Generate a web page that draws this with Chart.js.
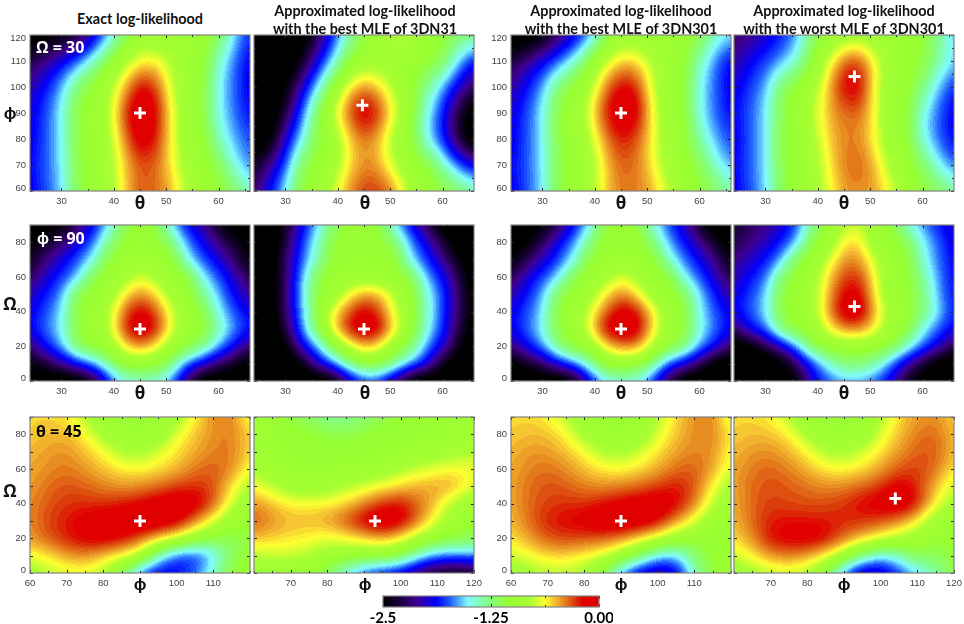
<!DOCTYPE html>
<html>
<head>
<meta charset="utf-8">
<script src="https://cdn.jsdelivr.net/npm/chart.js@4"></script>
<style>
  html, body { margin: 0; padding: 0; background: #fff; }
  body { position: relative; width: 964px; height: 624px; overflow: hidden; }
  canvas { position: absolute; }
  .txt { position: absolute; white-space: nowrap; line-height: 1; font-weight: 700; transform: translate(-50%, -50%); }
  .title { font: 700 14.4px Lato, "Open Sans", sans-serif; color: #111; }
  .sym { font: 700 17px "Open Sans", sans-serif; color: #111; }
  .tag { font: 700 16px "Open Sans", sans-serif; transform: translate(0, -50%); }
</style>
</head>
<body>
<script>
// axes of the value grids
const thetaNodes = [24, 27, 30, 33, 36, 39, 42, 45, 48, 51, 54, 57, 60, 63, 66];
const phiRowNodes = [120, 110, 100, 90, 80, 70, 60];
const omegaRowNodes = [90, 80, 70, 60, 50, 40, 30, 20, 10, 0];
const phiColNodes = [60, 65, 70, 75, 80, 85, 90, 95, 100, 105, 110, 115, 120];

// tick marks and the ticks that carry a label
const thetaTicks = [25, 30, 35, 40, 45, 50, 55, 60, 65];
const thetaLabels = [30, 40, 50, 60];
const phiTicks = [60, 65, 70, 75, 80, 85, 90, 95, 100, 105, 110, 115, 120];
const phiAxisLabels = [60, 70, 80, 90, 100, 110, 120];
const phiLabelsLeft = [60, 70, 80, 100, 110];
const phiLabelsRight = [70, 80, 100, 110, 120];
const omegaTicks = [0, 10, 20, 30, 40, 50, 60, 70, 80, 90];
const omegaLabels = [0, 20, 40, 60, 80];

// row 1: Omega = 30, log-likelihood over theta (columns) and phi (rows)
const exactOmega30 = [
  [-2.6,-2.6,-2.55,-2.4,-2.05,-1.65,-1.2,-1,-1,-1,-1,-1,-1.1,-1.55,-1.8],
  [-2.3,-2.1,-1.9,-1.7,-1.4,-1.05,-0.85,-0.62,-0.6,-0.8,-0.98,-1,-1.45,-1.7,-1.95],
  [-2.05,-1.85,-1.6,-1.2,-1,-0.85,-0.5,-0.12,-0.25,-0.72,-0.98,-1.05,-1.5,-1.72,-1.95],
  [-1.95,-1.75,-1.5,-1.05,-1,-0.8,-0.25,0,-0.12,-0.62,-0.98,-1.05,-1.5,-1.7,-1.9],
  [-1.95,-1.75,-1.52,-1.08,-1,-0.85,-0.42,-0.05,-0.2,-0.63,-0.95,-1.02,-1.4,-1.62,-1.75],
  [-1.9,-1.72,-1.55,-1.1,-1,-0.9,-0.55,-0.32,-0.35,-0.6,-0.9,-1,-1.1,-1.5,-1.7],
  [-1.95,-1.75,-1.58,-1.1,-1,-0.9,-0.55,-0.3,-0.35,-0.48,-0.8,-1,-1.05,-1.15,-1.4]
];
const best31Omega30 = [
  [-2.7,-2.7,-2.7,-2.7,-2.3,-1.85,-1.4,-1.05,-0.95,-0.72,-0.85,-1,-1.05,-1.2,-1.2],
  [-2.7,-2.7,-2.7,-2.45,-1.95,-1.55,-1.1,-0.98,-0.95,-0.95,-1,-1,-1.1,-1.55,-1.9],
  [-2.7,-2.7,-2.55,-2,-1.55,-1.05,-0.6,-0.38,-0.55,-0.85,-1,-1.3,-1.65,-1.95,-2.25],
  [-2.7,-2.7,-2.3,-1.75,-1.15,-0.7,-0.3,-0.02,-0.22,-0.68,-1,-1.5,-1.82,-2.35,-2.7],
  [-2.7,-2.6,-1.95,-1.55,-1.1,-1,-0.6,-0.38,-0.55,-0.9,-1.05,-1.55,-1.85,-2.35,-2.7],
  [-2.4,-2.1,-1.75,-1.15,-1,-0.95,-0.6,-0.42,-0.48,-0.8,-1,-1,-1.35,-1.7,-1.95],
  [-2.2,-1.85,-1.5,-1.05,-1,-0.75,-0.42,-0.25,-0.25,-0.42,-0.85,-1,-1.05,-1.15,-1.3]
];
const best301Omega30 = [
  [-2.7,-2.7,-2.55,-2.25,-2,-1.7,-1.2,-1,-1,-1,-1,-1,-1.05,-1.4,-1.5],
  [-2.3,-2.1,-1.9,-1.7,-1.45,-1.05,-0.75,-0.52,-0.55,-0.8,-0.98,-1.02,-1.4,-1.7,-1.95],
  [-2.1,-1.85,-1.62,-1.2,-1,-0.85,-0.38,-0.12,-0.2,-0.72,-0.98,-1.02,-1.5,-1.72,-1.95],
  [-1.95,-1.75,-1.52,-1.05,-1,-0.65,-0.2,-0.02,-0.08,-0.62,-0.98,-1.02,-1.5,-1.72,-1.9],
  [-1.95,-1.75,-1.52,-1.08,-1,-0.82,-0.42,-0.2,-0.32,-0.62,-0.95,-1,-1.35,-1.62,-1.78],
  [-1.9,-1.72,-1.55,-1.1,-1,-0.9,-0.55,-0.33,-0.38,-0.6,-0.9,-1,-1.1,-1.45,-1.65],
  [-1.95,-1.75,-1.55,-1.1,-1,-0.9,-0.55,-0.38,-0.38,-0.48,-0.72,-1,-1.05,-1.15,-1.35]
];
const worst301Omega30 = [
  [-2.2,-2.15,-2,-1.85,-1.65,-1.2,-1,-0.98,-0.92,-1,-1,-1,-1.05,-1.3,-1.6],
  [-2.1,-1.9,-1.78,-1.65,-1.45,-1.05,-0.72,-0.3,-0.25,-0.62,-0.95,-1,-1.05,-1.3,-1.55],
  [-1.95,-1.78,-1.62,-1.15,-1,-0.88,-0.5,-0.12,-0.1,-0.68,-0.98,-1,-1.25,-1.6,-1.85],
  [-1.9,-1.72,-1.55,-1.1,-1,-0.75,-0.5,-0.38,-0.35,-0.65,-0.98,-1.02,-1.5,-1.72,-1.95],
  [-1.95,-1.75,-1.55,-1.1,-1,-0.85,-0.55,-0.4,-0.42,-0.66,-0.97,-1.02,-1.5,-1.72,-1.92],
  [-1.9,-1.72,-1.55,-1.1,-1,-0.9,-0.62,-0.38,-0.32,-0.5,-0.85,-1,-1.15,-1.5,-1.72],
  [-1.95,-1.75,-1.58,-1.12,-1,-0.92,-0.68,-0.45,-0.42,-0.46,-0.65,-0.98,-1.05,-1.15,-1.3]
];

// row 2: phi = 90, theta (columns) and Omega (rows)
const exactPhi90 = [
  [-2.7,-2.7,-2.5,-2.25,-1.9,-1.55,-1.15,-1,-1.1,-1.55,-1.9,-2.1,-2.4,-2.65,-2.7],
  [-2.55,-2.35,-2.2,-1.95,-1.7,-1.3,-1,-0.98,-1,-1.2,-1.65,-1.9,-2.15,-2.35,-2.6],
  [-2.4,-2.15,-1.95,-1.75,-1.5,-1.05,-1,-0.95,-1,-1,-1.5,-1.75,-1.95,-2.2,-2.5],
  [-2.25,-1.98,-1.8,-1.6,-1.1,-1,-0.9,-0.68,-0.85,-1,-1,-1.5,-1.75,-2,-2.3],
  [-2,-1.85,-1.65,-1.1,-1,-0.95,-0.6,-0.4,-0.55,-0.9,-1,-1.3,-1.6,-1.9,-2.1],
  [-1.95,-1.75,-1.55,-1.05,-1,-0.8,-0.35,-0.1,-0.3,-0.68,-1,-1.05,-1.5,-1.75,-1.95],
  [-1.9,-1.7,-1.52,-1.05,-1,-0.8,-0.25,0,-0.18,-0.65,-1,-1.02,-1.35,-1.65,-1.85],
  [-2.2,-1.85,-1.62,-1.15,-1,-0.95,-0.6,-0.4,-0.6,-0.95,-1,-1.25,-1.6,-1.9,-2.2],
  [-2.5,-2.3,-2.1,-1.85,-1.65,-1.3,-1,-1,-1,-1.2,-1.75,-1.95,-2.2,-2.4,-2.6],
  [-2.7,-2.7,-2.7,-2.65,-2.45,-1.85,-1.5,-1.45,-1.45,-1.7,-2.2,-2.65,-2.7,-2.7,-2.7]
];
const best31Phi90 = [
  [-2.7,-2.7,-2.4,-1.95,-1.58,-1.2,-1.02,-1,-1.1,-1.55,-1.9,-2.25,-2.6,-2.7,-2.7],
  [-2.7,-2.7,-2.3,-1.8,-1.45,-1.05,-1,-1,-1,-1.2,-1.65,-1.95,-2.3,-2.65,-2.7],
  [-2.7,-2.7,-2.2,-1.75,-1.4,-1.02,-1,-1,-1,-1,-1.55,-1.8,-2.1,-2.45,-2.7],
  [-2.7,-2.7,-2.2,-1.65,-1.1,-1,-1,-0.95,-1,-1,-1.1,-1.6,-1.88,-2.25,-2.65],
  [-2.7,-2.7,-2.15,-1.6,-1.05,-1,-0.65,-0.42,-0.5,-0.8,-1,-1.45,-1.75,-2.2,-2.6],
  [-2.7,-2.7,-2.2,-1.65,-1.1,-0.62,-0.32,-0.12,-0.28,-0.72,-1,-1.4,-1.78,-2.2,-2.55],
  [-2.7,-2.7,-2.3,-1.7,-1.12,-0.6,-0.18,0,-0.12,-0.6,-1,-1.45,-1.8,-2.25,-2.65],
  [-2.7,-2.7,-2.55,-1.95,-1.65,-1.1,-0.75,-0.48,-0.62,-1,-1.2,-1.65,-1.95,-2.4,-2.7],
  [-2.7,-2.7,-2.7,-2.5,-2,-1.7,-1.3,-1.05,-1.05,-1.3,-1.6,-1.9,-2.4,-2.7,-2.7],
  [-2.7,-2.7,-2.7,-2.7,-2.7,-2.65,-2.1,-1.8,-1.85,-2.2,-2.65,-2.7,-2.7,-2.7,-2.7]
];
const best301Phi90 = [
  [-2.7,-2.7,-2.5,-2.25,-1.9,-1.55,-1.05,-1,-1.05,-1.45,-1.75,-2,-2.35,-2.7,-2.7],
  [-2.7,-2.5,-2.25,-1.9,-1.65,-1.25,-1,-1,-1,-1.2,-1.6,-1.85,-2.1,-2.35,-2.65],
  [-2.5,-2.25,-2,-1.78,-1.5,-1.05,-1,-1,-1,-1,-1.4,-1.7,-1.9,-2.15,-2.45],
  [-2.3,-1.95,-1.78,-1.55,-1.1,-1,-0.88,-0.67,-0.85,-1,-1,-1.5,-1.75,-2,-2.3],
  [-2.05,-1.85,-1.62,-1.12,-1,-0.9,-0.6,-0.38,-0.55,-0.95,-1,-1.1,-1.55,-1.85,-2.1],
  [-1.95,-1.75,-1.55,-1.05,-1,-0.7,-0.35,-0.1,-0.18,-0.55,-0.98,-1.05,-1.5,-1.75,-1.95],
  [-1.92,-1.72,-1.5,-1.05,-1,-0.65,-0.12,0,-0.05,-0.55,-0.98,-1.02,-1.48,-1.7,-1.9],
  [-2.15,-1.88,-1.65,-1.25,-1,-0.98,-0.6,-0.38,-0.42,-0.78,-1,-1.2,-1.6,-1.88,-2.2],
  [-2.6,-2.4,-2.2,-1.9,-1.7,-1.35,-1,-1,-1,-1.25,-1.75,-1.95,-2.25,-2.6,-2.7],
  [-2.7,-2.7,-2.7,-2.7,-2.55,-1.95,-1.55,-1.45,-1.5,-1.8,-2.3,-2.65,-2.7,-2.7,-2.7]
];
const worst301Phi90 = [
  [-2.35,-2.25,-2.15,-2,-1.75,-1.3,-1,-0.8,-0.72,-1,-1.05,-1.45,-1.65,-1.85,-2],
  [-2.3,-2.15,-2,-1.85,-1.6,-1.05,-0.98,-0.58,-0.55,-0.98,-1,-1.1,-1.5,-1.72,-1.95],
  [-2.15,-1.98,-1.88,-1.62,-1.1,-1,-0.72,-0.42,-0.42,-0.75,-1,-1.02,-1.45,-1.7,-1.92],
  [-2.05,-1.88,-1.72,-1.2,-1,-0.92,-0.55,-0.28,-0.25,-0.65,-1,-1.02,-1.3,-1.65,-1.9],
  [-1.95,-1.78,-1.58,-1.08,-1,-0.88,-0.5,-0.15,-0.12,-0.62,-1,-1.02,-1.25,-1.62,-1.88],
  [-1.9,-1.75,-1.55,-1.08,-1,-0.85,-0.45,-0.05,-0.05,-0.5,-0.88,-1.02,-1.2,-1.55,-1.85],
  [-2.2,-1.88,-1.7,-1.2,-1,-0.98,-0.65,-0.4,-0.38,-0.62,-0.98,-1.02,-1.5,-1.72,-1.92],
  [-2.7,-2.55,-2.3,-2,-1.62,-1.1,-1,-1,-1,-1,-1.05,-1.4,-1.7,-1.95,-2.3],
  [-2.7,-2.7,-2.7,-2.6,-2.2,-1.8,-1.45,-1.2,-1.2,-1.35,-1.7,-2.05,-2.35,-2.65,-2.7],
  [-2.7,-2.7,-2.7,-2.7,-2.5,-1.95,-1.75,-1.65,-1.65,-1.75,-1.95,-2.4,-2.65,-2.7,-2.7]
];

// row 3: theta = 45, phi (columns) and Omega (rows)
const exactTheta45 = [
  [-0.55,-0.55,-0.58,-0.8,-1,-1,-1,-1,-0.9,-0.6,-0.42,-0.38,-0.7],
  [-0.55,-0.5,-0.5,-0.6,-0.85,-1,-1,-1,-0.65,-0.52,-0.42,-0.38,-0.55],
  [-0.5,-0.45,-0.42,-0.52,-0.62,-0.8,-0.85,-0.68,-0.58,-0.48,-0.4,-0.38,-0.58],
  [-0.48,-0.42,-0.38,-0.44,-0.52,-0.6,-0.62,-0.58,-0.5,-0.38,-0.32,-0.4,-0.65],
  [-0.45,-0.36,-0.31,-0.34,-0.4,-0.44,-0.42,-0.36,-0.28,-0.25,-0.3,-0.58,-0.85],
  [-0.42,-0.32,-0.26,-0.25,-0.26,-0.22,-0.17,-0.08,-0.04,-0.08,-0.3,-0.72,-0.95],
  [-0.42,-0.28,-0.22,-0.14,-0.06,-0.02,0,-0.02,-0.08,-0.38,-0.68,-0.98,-1],
  [-0.45,-0.32,-0.22,-0.12,-0.1,-0.18,-0.32,-0.5,-0.68,-0.95,-1.1,-1.15,-1.1],
  [-0.65,-0.58,-0.45,-0.42,-0.52,-0.62,-0.75,-1.45,-1.8,-1.85,-1.6,-1.15,-1.05],
  [-0.9,-0.78,-0.7,-0.68,-0.8,-1.15,-1.8,-1.95,-1.9,-1.7,-1.4,-1.05,-1]
];
const best31Theta45 = [
  [-0.9,-1,-1.1,-1.22,-1.3,-1.3,-1.25,-1.15,-1.05,-1,-1,-1,-0.8],
  [-0.95,-1,-1,-1.02,-1.1,-1.12,-1.05,-1,-1,-1,-1,-0.98,-0.95],
  [-0.98,-1,-1,-1,-1,-1,-1,-1,-1,-0.98,-0.92,-0.85,-0.8],
  [-0.85,-0.95,-1,-1,-1,-1,-1,-0.95,-0.8,-0.72,-0.65,-0.62,-0.65],
  [-0.62,-0.75,-0.92,-0.95,-0.9,-0.8,-0.7,-0.62,-0.55,-0.48,-0.45,-0.45,-0.72],
  [-0.42,-0.52,-0.6,-0.62,-0.6,-0.55,-0.4,-0.25,-0.18,-0.35,-0.55,-0.85,-0.98],
  [-0.32,-0.42,-0.5,-0.48,-0.45,-0.3,-0.1,0,-0.08,-0.38,-0.7,-0.98,-1],
  [-0.5,-0.55,-0.58,-0.62,-0.68,-0.62,-0.55,-0.45,-0.6,-0.85,-1,-1.05,-1.15],
  [-0.8,-0.72,-0.72,-0.78,-0.9,-0.98,-1,-1.02,-1.1,-1.45,-1.65,-1.7,-1.65],
  [-1,-1,-1,-1.05,-1.2,-1.5,-1.8,-1.9,-2,-2.25,-2.45,-2.45,-2.4]
];
const best301Theta45 = [
  [-0.55,-0.56,-0.6,-0.78,-1,-1,-1,-1,-0.8,-0.56,-0.42,-0.38,-0.75],
  [-0.55,-0.5,-0.52,-0.6,-0.85,-1,-1,-1,-0.68,-0.52,-0.42,-0.38,-0.6],
  [-0.5,-0.44,-0.44,-0.52,-0.62,-0.8,-0.85,-0.7,-0.58,-0.46,-0.4,-0.42,-0.65],
  [-0.48,-0.4,-0.36,-0.42,-0.52,-0.6,-0.62,-0.58,-0.48,-0.36,-0.32,-0.46,-0.7],
  [-0.47,-0.36,-0.31,-0.33,-0.4,-0.42,-0.4,-0.34,-0.28,-0.2,-0.3,-0.62,-0.88],
  [-0.48,-0.35,-0.28,-0.26,-0.26,-0.2,-0.12,-0.1,-0.05,-0.14,-0.38,-0.75,-0.95],
  [-0.52,-0.36,-0.22,-0.17,-0.12,-0.03,0,-0.03,-0.15,-0.42,-0.68,-0.98,-1],
  [-0.58,-0.45,-0.32,-0.28,-0.3,-0.32,-0.4,-0.55,-0.7,-0.95,-1.02,-1.05,-1.02],
  [-0.72,-0.65,-0.55,-0.55,-0.62,-0.7,-0.88,-1.2,-1.55,-1.6,-1.2,-1.02,-1],
  [-0.95,-0.85,-0.8,-0.78,-0.85,-1.1,-1.7,-2,-2.1,-2,-1.4,-1.05,-1]
];
const worst301Theta45 = [
  [-0.55,-0.56,-0.6,-0.8,-1,-1,-1,-1,-0.8,-0.56,-0.45,-0.42,-0.55],
  [-0.55,-0.5,-0.52,-0.58,-0.85,-1,-1,-1,-0.68,-0.52,-0.38,-0.34,-0.52],
  [-0.5,-0.44,-0.42,-0.5,-0.6,-0.8,-0.85,-0.7,-0.58,-0.44,-0.33,-0.32,-0.52],
  [-0.48,-0.38,-0.34,-0.4,-0.5,-0.6,-0.62,-0.58,-0.46,-0.32,-0.27,-0.36,-0.6],
  [-0.46,-0.35,-0.3,-0.33,-0.37,-0.42,-0.4,-0.34,-0.26,-0.12,-0.24,-0.5,-0.75],
  [-0.5,-0.34,-0.28,-0.3,-0.32,-0.3,-0.26,-0.17,-0.1,-0.02,-0.2,-0.62,-0.88],
  [-0.5,-0.35,-0.22,-0.2,-0.2,-0.22,-0.24,-0.25,-0.3,-0.4,-0.6,-0.95,-1],
  [-0.58,-0.42,-0.18,-0.12,-0.1,-0.14,-0.35,-0.5,-0.65,-0.8,-0.95,-1.02,-1.02],
  [-0.72,-0.6,-0.42,-0.4,-0.45,-0.62,-0.88,-1.3,-1.55,-1.4,-1.1,-1.2,-1.05],
  [-0.95,-0.85,-0.78,-0.72,-0.8,-1.1,-1.75,-2.1,-2.05,-1.8,-1.6,-1.35,-1.1]
];

// white crosses, [x, y] per panel
const peaksOmega30 = [[45, 90], [44.7, 93], [45, 90], [47, 104]];
const peaksPhi90 = [[45, 30], [45, 30], [45, 30], [47, 43]];
const peaksTheta45 = [[90, 30], [93, 30], [90, 30], [104, 43]];

const colorbarTicks = [-2.5, -1.875, -1.25, -0.625, 0];
const colorbarLabels = { "-2.5": "-2.5", "-1.25": "-1.25", "0": "0.00" };

const columnTitles = [
  ["Exact log-likelihood"],
  ["Approximated log-likelihood", "with the best MLE of 3DN31"],
  ["Approximated log-likelihood", "with the best MLE of 3DN301"],
  ["Approximated log-likelihood", "with the worst MLE of 3DN301"]
];

// colour scale of the figure
const colorStops = [
  [-2.5, 0, 0, 0], [-2.3, 26, 0, 60], [-2.12, 64, 0, 140], [-1.88, 0, 0, 255],
  [-1.72, 30, 95, 255], [-1.6, 90, 190, 255], [-1.52, 130, 250, 255], [-1.3, 130, 255, 140],
  [-1.05, 150, 255, 50], [-0.8, 170, 255, 50], [-0.62, 255, 255, 50], [-0.52, 245, 195, 50],
  [-0.4, 228, 130, 30], [-0.28, 218, 60, 10], [-0.19, 224, 0, 0], [0, 224, 0, 0]
];

function colorFor(v) {
  if (v <= colorStops[0][0]) return colorStops[0].slice(1);
  for (let i = 1; i < colorStops.length; i++) {
    const b = colorStops[i];
    if (v <= b[0]) {
      const a = colorStops[i - 1];
      const t = (v - a[0]) / (b[0] - a[0]);
      return [a[1] + (b[1] - a[1]) * t, a[2] + (b[2] - a[2]) * t, a[3] + (b[3] - a[3]) * t];
    }
  }
  return colorStops[colorStops.length - 1].slice(1);
}

// smooth surface weights between four neighbouring grid values
function spline(p0, p1, p2, p3, t) {
  const s = 1 - t;
  return (s * s * s * p0 + (3 * t * t * t - 6 * t * t + 4) * p1 +
    (-3 * t * t * t + 3 * t * t + 3 * t + 1) * p2 + t * t * t * p3) / 6;
}

// contour-filled surface through the read values, placed by the chart's scales
function heatmapPlugin(xNodes, yNodes, rows) {
  const dx = xNodes[1] - xNodes[0];
  const dy = yNodes[1] - yNodes[0];
  const sample = (gx, gy) => {
    const i = Math.min(Math.floor(gx), xNodes.length - 2);
    const j = Math.min(Math.floor(gy), yNodes.length - 2);
    const col = [];
    for (let m = -1; m <= 2; m++) {
      const row = rows[Math.max(0, Math.min(yNodes.length - 1, j + m))];
      const at = (k) => row[Math.max(0, Math.min(xNodes.length - 1, k))];
      col.push(spline(at(i - 1), at(i), at(i + 1), at(i + 2), gx - i));
    }
    return spline(col[0], col[1], col[2], col[3], gy - j);
  };
  return {
    id: "heatmap",
    beforeDatasetsDraw(chart) {
      const { ctx, chartArea: area, scales } = chart;
      const w = Math.round(area.right - area.left);
      const h = Math.round(area.bottom - area.top);
      const img = ctx.createImageData(w, h);
      for (let py = 0; py < h; py++) {
        const gy = (scales.y.getValueForPixel(area.top + py + 0.5) - yNodes[0]) / dy;
        for (let px = 0; px < w; px++) {
          const gx = (scales.x.getValueForPixel(area.left + px + 0.5) - xNodes[0]) / dx;
          const level = Math.round(sample(gx, gy) / 0.035) * 0.035;
          const c = colorFor(level);
          const o = (py * w + px) * 4;
          img.data[o] = c[0];
          img.data[o + 1] = c[1];
          img.data[o + 2] = c[2];
          img.data[o + 3] = 255;
        }
      }
      ctx.putImageData(img, Math.round(area.left), Math.round(area.top));
    }
  };
}

// frame and inward ticks on all four sides
const framePlugin = {
  id: "frame",
  beforeDraw(chart) {
    const { chartArea: area, scales } = chart;
    if (!scales.y.options.display) return;
    // the end labels of the y axis sit just inside the frame
    scales.y.getLabelItems().forEach((item) => {
      const t = item.options.translation;
      if (Math.abs(t[1] - area.bottom) < 1) t[1] -= 3;
      if (Math.abs(t[1] - area.top) < 1) t[1] += 3;
    });
  },
  afterDraw(chart) {
    const { ctx, chartArea: area, scales } = chart;
    ctx.save();
    ctx.strokeStyle = "#222";
    ctx.lineWidth = 1;
    scales.x.ticks.forEach((tick) => {
      const x = Math.round(scales.x.getPixelForValue(tick.value)) + 0.5;
      const len = tick.label ? 3 : 2;
      ctx.beginPath();
      ctx.moveTo(x, area.bottom);
      ctx.lineTo(x, area.bottom - len);
      ctx.moveTo(x, area.top);
      ctx.lineTo(x, area.top + len);
      ctx.stroke();
    });
    if (scales.y.options.display) {
      scales.y.ticks.forEach((tick) => {
        const y = Math.round(scales.y.getPixelForValue(tick.value)) + 0.5;
        const len = tick.value % 10 === 0 ? 3 : 2;
        ctx.beginPath();
        ctx.moveTo(area.left, y);
        ctx.lineTo(area.left + len, y);
        ctx.moveTo(area.right, y);
        ctx.lineTo(area.right - len, y);
        ctx.stroke();
      });
    }
    ctx.strokeStyle = "#808080";
    ctx.lineWidth = 1.2;
    ctx.strokeRect(area.left, area.top, area.right - area.left, area.bottom - area.top);
    ctx.restore();
  }
};

const padLeft = 30, padRight = 14, padTop = 4, padBottom = 24;

function addCanvas(left, top, width, height) {
  const canvas = document.createElement("canvas");
  canvas.width = width + padLeft + padRight;
  canvas.height = height + padTop + padBottom;
  canvas.style.left = left - padLeft + "px";
  canvas.style.top = top - padTop + "px";
  document.body.appendChild(canvas);
  return canvas;
}

function axisOptions(min, max, tickValues, labelValues, fit) {
  return {
    type: "linear",
    min,
    max,
    afterBuildTicks: (scale) => {
      scale.ticks = tickValues.map((value) => ({ value }));
    },
    afterFit: fit,
    grid: { display: false, drawTicks: false },
    border: { display: false },
    ticks: {
      autoSkip: false,
      maxRotation: 0,
      color: "#444",
      font: { family: "'Liberation Sans', Arial, sans-serif", size: 9.5 },
      callback: (value) => (labelValues.includes(value) ? String(value) : "")
    }
  };
}

function drawPanel(p) {
  const canvas = addCanvas(p.left, p.top, 220, 156);
  const cells = [];
  p.yNodes.forEach((y, r) => p.xNodes.forEach((x, c) => cells.push({ x, y, v: p.rows[r][c] })));
  const xAxis = axisOptions(p.xMin, p.xMax, p.xTicks, p.xLabels, (s) => {
    s.height = padBottom;
    s.paddingLeft = 0;
    s.paddingRight = 0;
  });
  xAxis.ticks.padding = 5;
  const yAxis = axisOptions(p.yMin, p.yMax, p.yTicks, p.yLabels, (s) => {
    s.width = padLeft;
    s.paddingTop = 0;
    s.paddingBottom = 0;
  });
  yAxis.ticks.padding = 4;
  new Chart(canvas, {
    type: "scatter",
    data: {
      datasets: [
        { data: cells, pointRadius: 0 },
        {
          data: [{ x: p.peak[0], y: p.peak[1] }],
          pointStyle: "cross",
          pointRadius: 6,
          pointBorderColor: "#fff",
          pointBorderWidth: 3
        }
      ]
    },
    options: {
      responsive: false,
      animation: false,
      layout: { autoPadding: false, padding: { top: padTop, right: padRight } },
      plugins: { legend: { display: false }, tooltip: { enabled: false } },
      scales: { x: xAxis, y: yAxis }
    },
    plugins: [heatmapPlugin(p.xNodes, p.yNodes, p.rows), framePlugin]
  });
}

const columnLefts = [30, 254, 511, 734];
const rowTops = [35, 225, 417];

const rowOneGrids = [exactOmega30, best31Omega30, best301Omega30, worst301Omega30];
const rowTwoGrids = [exactPhi90, best31Phi90, best301Phi90, worst301Phi90];
const rowThreeGrids = [exactTheta45, best31Theta45, best301Theta45, worst301Theta45];

columnLefts.forEach((left, col) => {
  const showY = col === 0 || col === 2;
  drawPanel({
    left, top: rowTops[0], xNodes: thetaNodes, yNodes: phiRowNodes, rows: rowOneGrids[col],
    xMin: 24, xMax: 66, xTicks: thetaTicks, xLabels: thetaLabels,
    yMin: 60, yMax: 120, yTicks: phiTicks, yLabels: showY ? phiAxisLabels : [], peak: peaksOmega30[col]
  });
  drawPanel({
    left, top: rowTops[1], xNodes: thetaNodes, yNodes: omegaRowNodes, rows: rowTwoGrids[col],
    xMin: 24, xMax: 66, xTicks: thetaTicks, xLabels: thetaLabels,
    yMin: 0, yMax: 90, yTicks: omegaTicks, yLabels: showY ? omegaLabels : [], peak: peaksPhi90[col]
  });
  drawPanel({
    left, top: rowTops[2], xNodes: phiColNodes, yNodes: omegaRowNodes, rows: rowThreeGrids[col],
    xMin: 60, xMax: 120, xTicks: phiTicks, xLabels: showY ? phiLabelsLeft : phiLabelsRight,
    yMin: 0, yMax: 90, yTicks: omegaTicks, yLabels: showY ? omegaLabels : [], peak: peaksTheta45[col]
  });
});

// colour bar
const barCanvas = addCanvas(383, 596, 216, 11);
new Chart(barCanvas, {
  type: "scatter",
  data: { datasets: [{ data: [] }] },
  options: {
    responsive: false,
    animation: false,
    layout: { autoPadding: false, padding: { top: padTop, right: padRight, left: padLeft } },
    plugins: { legend: { display: false }, tooltip: { enabled: false } },
    scales: {
      x: {
        type: "linear",
        min: -2.5,
        max: 0,
        afterBuildTicks: (scale) => {
          scale.ticks = colorbarTicks.map((value) => ({ value }));
        },
        afterFit: (s) => {
          s.height = padBottom;
          s.paddingLeft = 0;
          s.paddingRight = 0;
        },
        grid: { display: false, drawTicks: false },
        border: { display: false },
        ticks: {
          autoSkip: false,
          maxRotation: 0,
          padding: 2,
          color: "#000",
          font: { family: "Lato, 'Open Sans', sans-serif", size: 15, weight: "bold" },
          callback: (value) => colorbarLabels[String(value)] || ""
        }
      },
      y: { display: false, min: 0, max: 1 }
    }
  },
  plugins: [{
    id: "colorbar",
    beforeDatasetsDraw(chart) {
      const { ctx, chartArea: area, scales } = chart;
      for (let px = Math.round(area.left); px < area.right; px++) {
        const c = colorFor(scales.x.getValueForPixel(px + 0.5));
        ctx.fillStyle = `rgb(${c[0]},${c[1]},${c[2]})`;
        ctx.fillRect(px, area.top, 1, area.bottom - area.top);
      }
    }
  }, framePlugin]
});

// text on top of the charts
function addText(cls, text, x, y, color) {
  const el = document.createElement("div");
  el.className = "txt " + cls;
  el.textContent = text;
  el.style.left = x + "px";
  el.style.top = y + "px";
  if (color) el.style.color = color;
  document.body.appendChild(el);
}

const titleCenters = [140, 365, 621, 844];
columnTitles.forEach((lines, col) => {
  if (lines.length === 1) addText("title", lines[0], titleCenters[col], 18);
  else lines.forEach((line, i) => addText("title", line, titleCenters[col], 9.5 + i * 18.5));
});

titleCenters.forEach((x) => {
  addText("sym", "θ", x, 202);
  addText("sym", "θ", x, 392);
  addText("sym", "ϕ", x, 583);
});
addText("sym", "ϕ", 10, 112);
addText("sym", "Ω", 10, 303);
addText("sym", "Ω", 10, 490);
addText("tag", "Ω = 30", 36, 47, "#fff");
addText("tag", "ϕ = 90", 37, 238, "#fff");
addText("tag", "θ = 45", 36, 431, "#000");
</script>
</body>
</html>
